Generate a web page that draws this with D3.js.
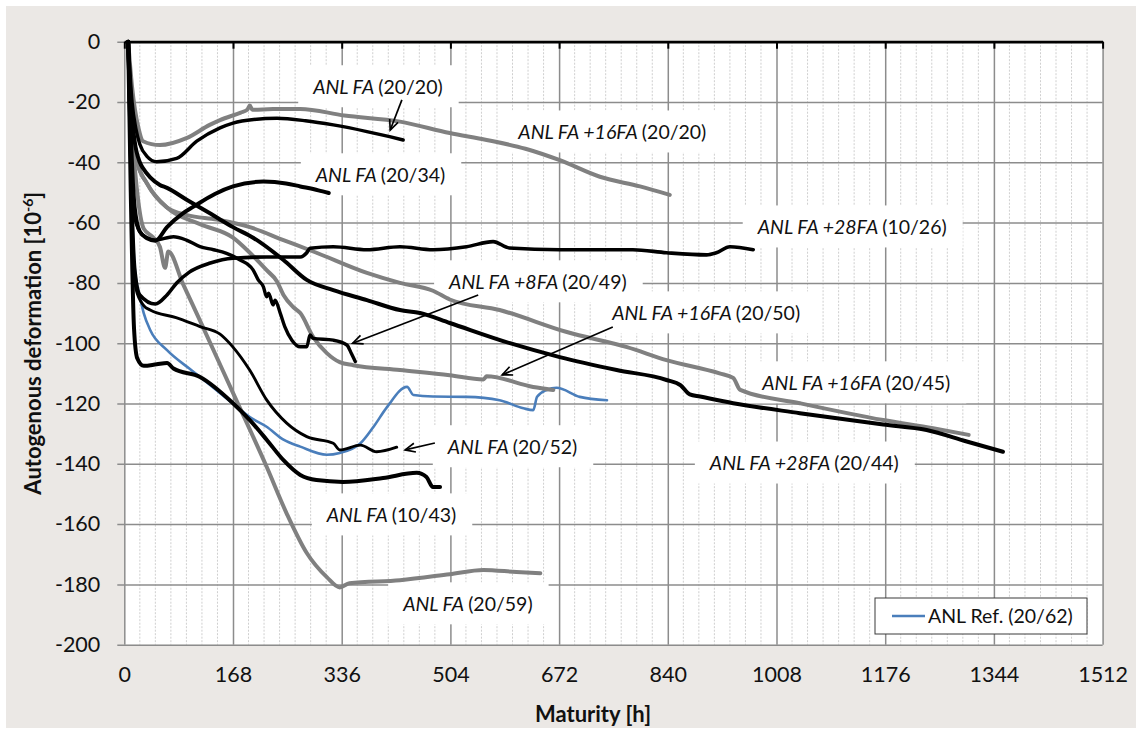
<!DOCTYPE html>
<html>
<head>
<meta charset="utf-8">
<script src="https://cdn.jsdelivr.net/npm/d3@7"></script>
<style>
  html, body { margin: 0; padding: 0; background: #ffffff; }
  svg { display: block; font-family: Lato, "Open Sans", sans-serif; }
</style>
</head>
<body>
<svg id="chart" width="1136" height="733"></svg>
<script>
// ---- axis ticks ----
const xTickValues = [0, 168, 336, 504, 672, 840, 1008, 1176, 1344, 1512];
const yTickValues = [0, -20, -40, -60, -80, -100, -120, -140, -160, -180, -200];
const xMinorStep = 24;

// ---- measured series: [maturity h, autogenous deformation 1e-6] ----
const fa_20_20 = [[6,0],[12,-20],[18,-29],[24,-34],[35,-38],[50,-39.8],[81,-38.7],[112,-33],[148,-28.6],[168,-27],[200,-25.8],[236,-25.4],[280,-26.2],[323,-27.6],[375,-29.8],[410,-31.5],[431,-32.6]];
const fa16_20_20 = [[6,0],[12,-15],[22,-28.7],[29,-33],[55,-34.3],[96,-32],[132,-27.6],[148,-26],[180,-23.5],[190,-22.6],[194,-21.2],[198,-22.6],[230,-22.3],[272,-22.3],[340,-24.5],[426,-26.5],[503,-30.3],[560,-32.6],[620,-35.5],[673,-39.3],[735,-44.8],[797,-48],[843,-50.8]];
const fa_20_34 = [[6,0],[10,-30],[16,-55],[24,-63],[35,-65.2],[48,-66],[66,-61.5],[90,-57],[107,-54.7],[140,-50.5],[168,-48],[215,-46.4],[250,-47],[272,-48],[300,-49.3],[316,-50.2]];
const fa28_10_26 = [[6,0],[10,-40],[16,-75],[24,-84],[48,-87],[66,-84],[81,-80],[100,-76.5],[133,-73.4],[168,-71.8],[220,-71.4],[272,-71.4],[282,-70],[287,-68.5],[323,-68],[375,-69],[426,-68],[477,-69],[529,-68],[570,-66.3],[595,-68.4],[673,-69],[786,-69],[838,-70],[900,-70.7],[915,-70],[936,-68],[972,-69]];
const fa8_20_49 = [[6,0],[10,-40],[16,-58],[24,-63],[35,-65],[48,-65.8],[76,-64.7],[96,-65.8],[117,-68],[138,-69],[158,-70.2],[179,-72.4],[199,-75.7],[207,-79],[215,-81.3],[220,-84.6],[223,-83.4],[230,-87.3],[233,-85.7],[241,-90],[248,-94.5],[259,-99],[272,-101.2],[282,-101.2],[287,-97.3],[292,-98.4],[323,-99],[344,-100.6],[351,-103.4],[357,-106.1]];
const fa16_20_50 = [[6,0],[12,-26],[20,-40],[35,-47],[66,-55],[117,-60.5],[168,-65],[194,-70],[220,-75.8],[236,-79.5],[246,-84],[261,-88],[272,-90],[292,-98],[313,-103.3],[333,-106.3],[354,-107.3],[426,-108.9],[503,-110.6],[555,-112],[560,-111],[632,-114.5],[663,-115.5]];
const fa16_20_45 = [[6,0],[12,-28],[20,-40],[35,-47],[66,-55],[97,-57.5],[143,-59],[194,-61.5],[246,-65.8],[297,-70],[375,-76.7],[426,-80],[477,-82.6],[503,-85.5],[580,-89],[684,-96.3],[777,-101.3],[838,-105.6],[920,-110],[941,-111.5],[952,-115.5],[1044,-119.9],[1173,-125.5],[1250,-128.2],[1305,-130.4]];
const fa_20_52 = [[6,0],[12,-60],[18,-82],[30,-87.5],[40,-89],[80,-91.5],[117,-94.5],[148,-97],[168,-101.3],[194,-109],[220,-118.8],[251,-126.5],[282,-131],[323,-133.2],[333,-135.4],[365,-133.8],[390,-136],[421,-134.5]];
const fa28_20_44 = [[6,0],[10,-20],[16,-33],[24,-40],[29,-42],[40,-45],[55,-47.5],[66,-48.5],[97,-52.5],[133,-57],[168,-61.5],[199,-65],[246,-72.4],[282,-79],[323,-82.4],[375,-85.7],[426,-89],[457,-90],[503,-93.3],[596,-100],[673,-104.6],[761,-108.9],[838,-112.2],[860,-114],[874,-117],[890,-117.7],[941,-119.9],[1044,-123.2],[1173,-127],[1240,-128.8],[1302,-132.6],[1358,-136]];
const fa_10_43 = [[6,0],[10,-50],[15,-95],[20,-105],[30,-107.5],[50,-107],[66,-106.6],[76,-108.4],[117,-111.2],[168,-119.9],[194,-125.5],[220,-132],[246,-138.8],[272,-143.7],[297,-145.4],[338,-146],[400,-144.7],[452,-143],[467,-144.4],[477,-147.7],[488,-147.7]];
const fa_20_59 = [[6,0],[12,-30],[20,-50],[30,-62],[44,-64.8],[55,-68],[63,-75],[68,-69.6],[91,-80.5],[117,-92.5],[168,-116.5],[220,-141],[251,-156.5],[282,-169.6],[313,-177.6],[333,-181],[348,-179.6],[426,-178.6],[503,-176.6],[555,-175.2],[606,-175.9],[643,-176.3]];
const ref_20_62 = [[6,0],[10,-40],[16,-75],[24,-84.6],[30,-90],[40,-95.6],[66,-102.3],[101,-108.5],[117,-111.2],[168,-120],[194,-124.5],[220,-127.7],[246,-132],[272,-134.3],[313,-137],[333,-136.4],[365,-133.2],[385,-127.8],[406,-121.2],[437,-114.5],[447,-117.2],[477,-117.7],[529,-117.8],[580,-118.9],[617,-121.6],[632,-122.2],[638,-117.8],[653,-115.5],[668,-114.8],[704,-117.8],[746,-118.9]];

// ---- label texts: italic mix name + regular curing code ----
const labelItalic = ["ANL FA", "ANL FA +16FA", "ANL FA", "ANL FA +28FA", "ANL FA +8FA", "ANL FA +16FA", "ANL FA +16FA", "ANL FA", "ANL FA +28FA", "ANL FA", "ANL FA"];
const labelRegular = ["(20/20)", "(20/20)", "(20/34)", "(10/26)", "(20/49)", "(20/50)", "(20/45)", "(20/52)", "(20/44)", "(10/43)", "(20/59)"];
const legendText = "ANL Ref. (20/62)";
const xTitle = "Maturity [h]";
const yTitle = "Autogenous deformation [10";

// ---- layout ----
const W = 1136, H = 733;
const pL = 124.3, pR = 1102.6, pT = 41.7, pB = 644.7;
const svg = d3.select("#chart");

const x = d3.scaleLinear().domain([0, 1512]).range([pL, pR]);
const y = d3.scaleLinear().domain([-200, 0]).range([pB, pT]);
const plainNum = d => String(d);   // hyphen-minus, as on the printed axis

// page panel and plot area
svg.append("rect").attr("x", 0).attr("y", 0).attr("width", W).attr("height", H).attr("fill", "#ffffff");
svg.append("rect").attr("x", 6).attr("y", 6).attr("width", W - 6).attr("height", H - 11).attr("fill", "#ebe8e5");
svg.append("rect").attr("x", pL).attr("y", pT).attr("width", pR - pL).attr("height", pB - pT).attr("fill", "#ffffff");

// minor vertical grid every 24 h
const minorVals = d3.range(0, 1512 + 1, xMinorStep).filter(v => v % 168 !== 0);
svg.append("g").selectAll("line").data(minorVals).join("line")
  .attr("x1", d => x(d)).attr("x2", d => x(d))
  .attr("y1", pT).attr("y2", pB)
  .attr("stroke", "#cfcfcf").attr("stroke-width", 1).attr("stroke-dasharray", "2,1.5");

// major grid via axes
const gx = svg.append("g").attr("transform", `translate(0,${pB})`)
  .call(d3.axisBottom(x).tickValues(xTickValues).tickSize(-(pB - pT)).tickFormat(""));
gx.select(".domain").remove();
gx.selectAll(".tick line").attr("stroke", "#8c8c8c").attr("stroke-width", 1.5);

const gy = svg.append("g").attr("transform", `translate(${pL},0)`)
  .call(d3.axisLeft(y).tickValues(yTickValues).tickSize(7).tickPadding(17).tickFormat(plainNum));
gy.select(".domain").remove();
gy.selectAll(".tick line").attr("x2", pR - pL).attr("x1", -7)
  .attr("stroke", "#8c8c8c").attr("stroke-width", 1.5);
gy.selectAll(".tick text")
  .attr("font-family", "Lato, sans-serif").attr("font-size", 21.5).attr("fill", "#111");

// x tick labels at the bottom
const gxl = svg.append("g").attr("transform", `translate(0,${pB})`)
  .call(d3.axisBottom(x).tickValues(xTickValues).tickSize(0).tickPadding(22).tickFormat(plainNum));
gxl.select(".domain").remove();
gxl.selectAll(".tick text")
  .attr("font-family", "Lato, sans-serif").attr("font-size", 21.5).attr("fill", "#111");

// ---- annotation layer (text boxes under the curves) ----
// anchor: left edge of text (h) and vertical text centre (v), in data units
const labelAnchors = [[292,-15.0],[609,-30],[296,-44.2],[979,-61.5],[502,-79.7],[754,-90],[986,-113.2],[500,-134.4],[905,-139.8],[313,-157],[431,-186.5]];
const boxLayer = svg.append("g");
const lineLayer = svg.append("g");
const textLayer = svg.append("g");

const labelNodes = labelItalic.map((it, i) => {
  const t = textLayer.append("text")
    .attr("x", x(labelAnchors[i][0]))
    .attr("y", y(labelAnchors[i][1]))
    .attr("dy", "0.35em")
    .attr("font-size", 19.5)
    .attr("fill", "#111");
  t.append("tspan").attr("font-style", "italic").text(it + " ");
  t.append("tspan").text(labelRegular[i]);
  return t;
});
labelNodes.forEach(t => {
  const b = t.node().getBBox();
  boxLayer.append("rect")
    .attr("x", b.x - 14).attr("y", b.y + b.height / 2 - 21)
    .attr("width", b.width + 30).attr("height", 42)
    .attr("fill", "#ffffff");
});

// ---- series ----
const series = [
  { data: ref_20_62, color: "#4a7ebb", width: 2.6 },
  { data: fa16_20_20, color: "#808080", width: 4 },
  { data: fa16_20_50, color: "#808080", width: 4 },
  { data: fa16_20_45, color: "#808080", width: 4 },
  { data: fa_20_59, color: "#808080", width: 4 },
  { data: fa_20_20, color: "#000000", width: 3.4 },
  { data: fa_20_34, color: "#000000", width: 4 },
  { data: fa28_10_26, color: "#000000", width: 3.6 },
  { data: fa8_20_49, color: "#000000", width: 3.4 },
  { data: fa_20_52, color: "#000000", width: 2.9 },
  { data: fa28_20_44, color: "#000000", width: 4 },
  { data: fa_10_43, color: "#000000", width: 4 }
];
const line = d3.line().x(d => x(d[0])).y(d => y(d[1])).curve(d3.curveMonotoneX);
series.forEach(s => {
  lineLayer.append("path")
    .attr("d", line(s.data))
    .attr("fill", "none")
    .attr("stroke", s.color)
    .attr("stroke-width", s.width)
    .attr("stroke-linejoin", "round")
    .attr("stroke-linecap", "round");
});

// top axis at zero with downward ticks
const gTop = svg.append("g").attr("transform", `translate(0,${pT})`)
  .call(d3.axisBottom(x).tickValues(xTickValues).tickSize(7).tickSizeOuter(0).tickFormat(""));
gTop.select(".domain").attr("stroke", "#000").attr("stroke-width", 2.8);
gTop.selectAll(".tick line").attr("stroke", "#000").attr("stroke-width", 2);

textLayer.raise();

// ---- arrows ----
const arrows = [[429,-19.3,411,-29.3],[547,-84,353,-100],[755,-94.6,584,-110.5],[480,-133.1,434,-135.4]];
const arrowG = svg.append("g");
arrows.forEach(a => {
  const x1 = x(a[0]), y1 = y(a[1]), x2 = x(a[2]), y2 = y(a[3]);
  const ang = Math.atan2(y2 - y1, x2 - x1);
  const hl = 11, spread = 0.42;
  const p1 = [x2 - hl * Math.cos(ang - spread), y2 - hl * Math.sin(ang - spread)];
  const p2 = [x2 - hl * Math.cos(ang + spread), y2 - hl * Math.sin(ang + spread)];
  arrowG.append("line").attr("x1", x1).attr("y1", y1).attr("x2", x2).attr("y2", y2)
    .attr("stroke", "#000").attr("stroke-width", 1.7);
  arrowG.append("path")
    .attr("d", `M${p1[0]},${p1[1]}L${x2},${y2}L${p2[0]},${p2[1]}`)
    .attr("fill", "none").attr("stroke", "#000").attr("stroke-width", 1.7)
    .attr("stroke-linejoin", "miter");
});

// ---- legend ----
const lg = svg.append("g");
lg.append("rect").attr("x", 875).attr("y", 598).attr("width", 212).attr("height", 36)
  .attr("fill", "#fff").attr("stroke", "#3a3a3a").attr("stroke-width", 1);
lg.append("line").attr("x1", 892).attr("x2", 925).attr("y1", 616).attr("y2", 616)
  .attr("stroke", "#4a7ebb").attr("stroke-width", 2.6);
lg.append("text").attr("x", 928).attr("y", 616).attr("dy", "0.35em")
  .attr("font-size", 19.5).attr("fill", "#111").text(legendText);

// ---- axis titles ----
svg.append("text")
  .attr("x", 593).attr("y", 714).attr("dy", "0.35em")
  .attr("text-anchor", "middle").attr("font-weight", "bold")
  .attr("font-size", 22).attr("fill", "#111").text(xTitle);

const yt = svg.append("text")
  .attr("transform", `translate(41,${(pT + pB) / 2}) rotate(-90)`)
  .attr("text-anchor", "middle").attr("font-weight", "bold")
  .attr("font-size", 22).attr("fill", "#111");
yt.append("tspan").text(yTitle);
yt.append("tspan").attr("font-size", 14).attr("dy", -8).text("-6");
yt.append("tspan").attr("dy", 8).text("]");
</script>
</body>
</html>
